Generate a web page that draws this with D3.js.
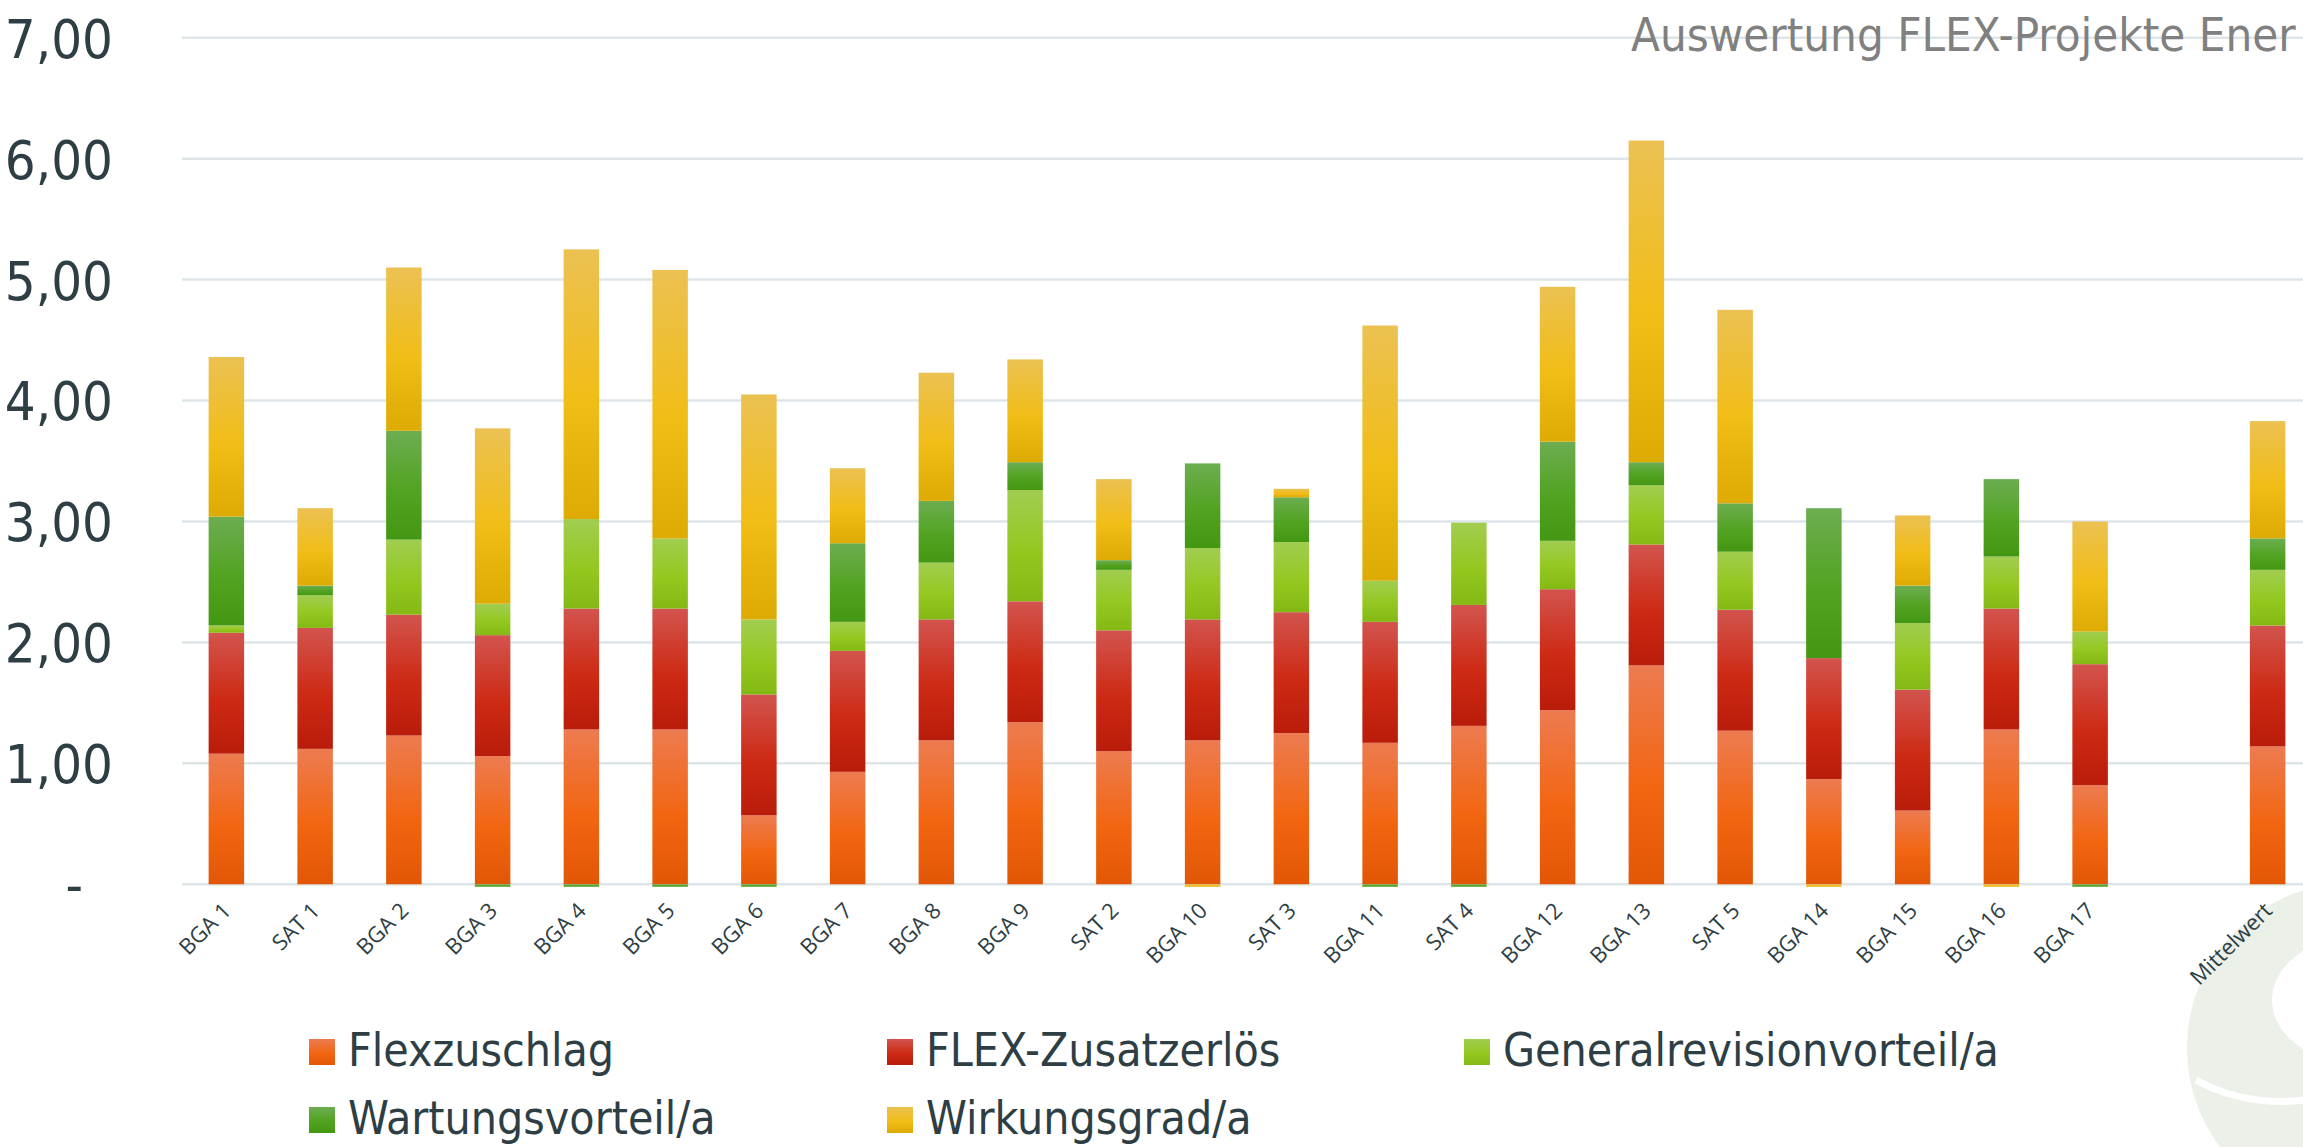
<!DOCTYPE html>
<html>
<head>
<meta charset="utf-8">
<script src="https://cdn.jsdelivr.net/npm/d3@7"></script>
<style>
  body { margin: 0; background: #ffffff; }
  svg { display: block; }
  .cond { font-family: "DejaVu Sans Condensed", "DejaVu Sans", sans-serif; font-stretch: condensed; }
</style>
</head>
<body>
<svg width="2303" height="1147"></svg>
<script>
// Data =====================================================

var categories = ["BGA 1", "SAT 1", "BGA 2", "BGA 3", "BGA 4", "BGA 5", "BGA 6", "BGA 7",
  "BGA 8", "BGA 9", "SAT 2", "BGA 10", "SAT 3", "BGA 11", "SAT 4", "BGA 12", "BGA 13",
  "SAT 5", "BGA 14", "BGA 15", "BGA 16", "BGA 17", "", "Mittelwert"];

var flexzuschlag     = [1.08, 1.12, 1.23, 1.06, 1.28, 1.28, 0.57, 0.93, 1.19, 1.34, 1.10, 1.19, 1.25, 1.17, 1.31, 1.44, 1.81, 1.27, 0.87, 0.61, 1.28, 0.82, 0, 1.14];
var flexZusatzerloes = [1.00, 1.00, 1.00, 1.00, 1.00, 1.00, 1.00, 1.00, 1.00, 1.00, 1.00, 1.00, 1.00, 1.00, 1.00, 1.00, 1.00, 1.00, 1.00, 1.00, 1.00, 1.00, 0, 1.00];
var generalrevision  = [0.06, 0.27, 0.62, 0.26, 0.74, 0.58, 0.62, 0.24, 0.47, 0.92, 0.50, 0.59, 0.58, 0.34, 0.68, 0.40, 0.49, 0.48, 0, 0.55, 0.43, 0.27, 0, 0.46];
var wartung          = [0.90, 0.08, 0.90, -0.02, -0.02, -0.02, -0.02, 0.65, 0.51, 0.23, 0.08, 0.70, 0.37, -0.02, -0.02, 0.82, 0.19, 0.40, 1.24, 0.31, 0.64, -0.02, 0, 0.26];
var wirkungsgrad     = [1.32, 0.64, 1.35, 1.45, 2.23, 2.22, 1.86, 0.62, 1.06, 0.85, 0.67, -0.02, 0.07, 2.11, 0, 1.28, 2.66, 1.60, -0.02, 0.58, -0.02, 0.91, 0, 0.97];

var seriesNames = ["Flexzuschlag", "FLEX-Zusatzerlös", "Generalrevisionvorteil/a", "Wartungsvorteil/a", "Wirkungsgrad/a"];
var seriesValues = [flexzuschlag, flexZusatzerloes, generalrevision, wartung, wirkungsgrad];
var yTicks = [0, 1, 2, 3, 4, 5, 6, 7];

// gradient stops per series: top, middle, bottom
var seriesColors = [
  ["#ed7b50", "#f26612", "#e25706"],
  ["#d2544e", "#cd2a14", "#b91c0a"],
  ["#a1cd50", "#94c820", "#84b814"],
  ["#6cad51", "#52a321", "#449712"],
  ["#ebc152", "#f1bd17", "#ddab03"]
];

// globals ==================================================

var svg = d3.select("svg"),
    width = +svg.attr("width"),
    height = +svg.attr("height");

var x = d3.scaleBand()
    .domain(categories)
    .range([182, 2312])
    .paddingInner(0.6)
    .paddingOuter(0.3);

var y = d3.scaleLinear()
    .domain([0, 7])
    .range([884.3, 37.7]);

var rows = categories.map(function(c, i) {
  var r = { cat: c };
  seriesNames.forEach(function(s, j) { r[s] = seriesValues[j][i]; });
  return r;
});

var stacked = d3.stack()
    .keys(seriesNames)
    .offset(d3.stackOffsetDiverging)(rows);

// gradients
var defs = svg.append("defs");
seriesColors.forEach(function(cols, i) {
  var g = defs.append("linearGradient")
      .attr("id", "grad" + i)
      .attr("x1", 0).attr("y1", 0).attr("x2", 0).attr("y2", 1);
  g.append("stop").attr("offset", "0%").attr("stop-color", cols[0]);
  g.append("stop").attr("offset", "55%").attr("stop-color", cols[1]);
  g.append("stop").attr("offset", "100%").attr("stop-color", cols[2]);
});

// watermark logo (bottom right) ===========================
var logo = svg.append("g").attr("class", "logo");
logo.append("circle")
    .attr("cx", 2352).attr("cy", 1048).attr("r", 165)
    .attr("fill", "#ebf0e8");
logo.append("ellipse")
    .attr("cx", 2372).attr("cy", 1000).attr("rx", 100).attr("ry", 68)
    .attr("fill", "#ffffff");
logo.append("path")
    .attr("d", "M2196,1080 Q2250,1110 2320,1098")
    .attr("fill", "none")
    .attr("stroke", "#ffffff")
    .attr("stroke-width", 7);

// Grid =====================================================

svg.append("g")
    .attr("class", "grid")
  .selectAll("line")
  .data(yTicks)
  .enter().append("line")
    .attr("x1", 182)
    .attr("x2", width)
    .attr("y1", function(d) { return y(d); })
    .attr("y2", function(d) { return y(d); })
    .attr("stroke", "#dde5e8")
    .attr("stroke-width", 2.5);

// y axis labels
var yAxis = d3.axisLeft(y)
    .tickValues(yTicks)
    .tickSize(0)
    .tickPadding(0)
    .tickFormat(function(d) { return d === 0 ? "-" : d3.format(".2f")(d).replace(".", ","); });

var yg = svg.append("g")
    .attr("transform", "translate(113,0)")
    .call(yAxis);
yg.select(".domain").remove();
yg.selectAll("text")
    .attr("class", "cond")
    .attr("font-size", 54)
    .attr("fill", "#2e3e45")
    .attr("dy", "0.36em")
    .attr("x", function(d) { return d === 0 ? -30 : 0; });

// Bars =====================================================

svg.append("g")
    .attr("class", "bars")
  .selectAll("g")
  .data(stacked)
  .enter().append("g")
    .attr("fill", function(d, i) { return "url(#grad" + i + ")"; })
  .selectAll("rect")
  .data(function(d) { return d.filter(function(p) { return p[1] !== p[0]; }); })
  .enter().append("rect")
    .attr("x", function(d) { return x(d.data.cat); })
    .attr("width", x.bandwidth())
    .attr("y", function(d) { return y(Math.max(d[0], d[1])); })
    .attr("height", function(d) { return Math.abs(y(d[0]) - y(d[1])); });

// x axis labels
var xAxis = d3.axisBottom(x).tickSize(0).tickPadding(0);
var xg = svg.append("g")
    .attr("transform", "translate(0,884)")
    .call(xAxis);
xg.select(".domain").remove();
xg.selectAll("text")
    .attr("font-family", "'Open Sans', sans-serif")
    .attr("font-size", 22)
    .attr("fill", "#2e3e45")
    .attr("text-anchor", "end")
    .attr("dy", 0)
    .attr("y", 0)
    .attr("transform", "translate(6,28) rotate(-45)");

// Title ====================================================

svg.append("text")
    .attr("class", "cond")
    .attr("x", 1631)
    .attr("y", 51)
    .attr("font-size", 47)
    .attr("fill", "#808080")
    .text("Auswertung FLEX-Projekte Ener");

// Legend ===================================================

var legendPos = [[309, 1039], [887, 1039], [1464, 1039], [309, 1107], [887, 1107]];

var legend = svg.append("g")
    .attr("class", "legend")
  .selectAll("g")
  .data(seriesNames)
  .enter().append("g")
    .attr("transform", function(d, i) { return "translate(" + legendPos[i][0] + "," + legendPos[i][1] + ")"; });

legend.append("rect")
    .attr("width", 26)
    .attr("height", 26)
    .attr("fill", function(d, i) { return "url(#grad" + i + ")"; });

legend.append("text")
    .attr("class", "cond")
    .attr("x", 39)
    .attr("y", 27)
    .attr("font-size", 46)
    .attr("fill", "#2e3e45")
    .text(function(d) { return d; });
</script>
</body>
</html>
